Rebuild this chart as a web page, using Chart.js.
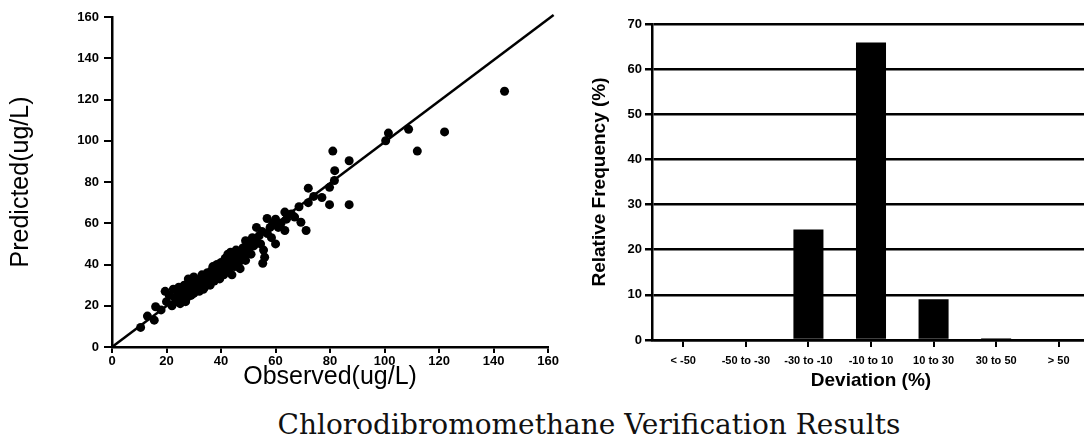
<!DOCTYPE html>
<html>
<head>
<meta charset="utf-8">
<script src="https://cdn.jsdelivr.net/npm/chart.js@4/dist/chart.umd.min.js"></script>
<style>
  html, body { margin: 0; padding: 0; background: #fff; overflow: hidden; }
  body { width: 1084px; height: 443px; position: relative; }
  #left-wrap { position: absolute; left: 0; top: 0; width: 560px; height: 400px; }
  #right-wrap { position: absolute; left: 560px; top: 0; width: 540px; height: 400px; }
  #caption {
    position: absolute; left: 0; top: 408px; width: 1178px; text-align: center;
    font-family: "DejaVu Serif", serif; font-size: 28px; color: #111;
  }
</style>
</head>
<body>
<div id="left-wrap"><canvas id="scatter-chart" width="560" height="400"></canvas></div>
<div id="right-wrap"><canvas id="hist-chart" width="540" height="400"></canvas></div>
<div id="caption">Chlorodibromomethane Verification Results</div>
<script>
// Observed vs predicted concentrations (ug/L)
const observed = [10.5, 13, 15.5, 16, 19.5, 18, 20, 21, 22, 22.5, 23, 23.5, 24, 24.5, 25, 25, 25.5, 26, 26.5, 27,
  27, 27.5, 28, 28, 28.5, 29, 29, 29.5, 30, 30, 30.5, 31, 31, 31.5, 32, 32, 32.5, 33, 33, 33.5,
  34, 34, 34.5, 35, 35, 35.5, 36, 36, 36.5, 37, 37, 37.5, 38, 38, 38.5, 39, 39, 39.5, 40, 40,
  40.5, 41, 41, 41.5, 42, 42, 42.5, 43, 43, 43.5, 44, 44, 45, 45, 45.5, 46, 46.5, 47, 47, 48,
  48.5, 49, 49, 50, 50.5, 51, 51.5, 52, 53, 53, 54, 54.5, 55, 55.3, 55.6, 56, 56.9, 57, 58, 58.5,
  59, 60, 60, 61, 62, 63.4, 63.4, 64, 65.8, 67, 68.6, 69.3, 71.2, 72, 72, 74, 77, 79.8, 79.8, 81.6,
  81.7, 81, 87, 87, 100.4, 101.4, 108.8, 112, 122, 144];
const predicted = [9.5, 15, 13, 19.5, 27, 18, 22, 25, 20, 28, 24, 22, 27, 29, 21, 25, 23, 28, 30, 26,
  22, 24, 29, 33, 27, 25, 31, 28, 34, 26, 30, 28, 32, 29, 31, 27, 33, 30, 35, 28,
  32, 29, 34, 31, 36, 33, 30, 35, 37, 33, 39, 32, 36, 34, 40, 35, 37, 33, 38, 41,
  36, 39, 35, 43, 40, 37, 45, 42, 38, 46, 41, 35, 43, 39, 47, 44, 41, 45, 38, 48,
  44, 42, 51.5, 47, 50, 45, 53, 49, 51, 58, 54, 50, 56, 40.6, 47, 43.5, 62.3, 55, 58, 53,
  60, 50, 62, 58, 60, 65.4, 56.5, 62, 64.5, 63, 68, 60.5, 56.5, 77, 70, 73, 72.5, 77.4, 69, 80.7,
  85.5, 95, 90.3, 69, 100, 103.7, 105.6, 95, 104.3, 124];
// 1:1 reference line
const lineX = [0, 162];
const lineY = [0, 161];
const scatterTicks = [0, 20, 40, 60, 80, 100, 120, 140, 160];

// Deviation histogram
const deviationBins = ['< -50', '-50 to -30', '-30 to -10', '-10 to 10', '10 to 30', '30 to 50', '> 50'];
const relFrequency = [0, 0, 24.5, 65.9, 9.0, 0.4, 0];
const freqTicks = [0, 10, 20, 30, 40, 50, 60, 70];

const sans = '"Liberation Sans", Arial, sans-serif';
const tickFont = { family: sans, size: 13, weight: 'bold' };
const titleFont = { family: sans, size: 25, lineHeight: 1 };

// Scatter chart
new Chart(document.getElementById('scatter-chart'), {
  type: 'scatter',
  data: {
    datasets: [
      {
        type: 'line',
        data: lineX.map((x, i) => ({ x: x, y: lineY[i] })),
        borderColor: '#000',
        borderWidth: 2.5,
        pointRadius: 0,
        fill: false,
        clip: false
      },
      {
        data: observed.map((x, i) => ({ x: x, y: predicted[i] })),
        backgroundColor: '#000',
        borderColor: '#000',
        pointRadius: 4.5,
        borderWidth: 0
      }
    ]
  },
  options: {
    responsive: false,
    animation: false,
    layout: { padding: { top: 17, right: 11, bottom: 0, left: 0 } },
    plugins: { legend: { display: false }, tooltip: { enabled: false } },
    scales: {
      x: {
        type: 'linear', min: 0, max: 160,
        afterBuildTicks: s => { s.ticks = scatterTicks.map(v => ({ value: v })); },
        afterFit: s => { s.height = 53; },
        ticks: { color: '#000', font: tickFont, padding: 1, maxRotation: 0 },
        grid: { drawOnChartArea: false, drawTicks: true, tickLength: 6, color: '#000', lineWidth: 2 },
        border: { color: '#000', width: 2.5 },
        title: { display: true, text: 'Observed(ug/L)', color: '#000', font: titleFont, padding: { top: 0, bottom: 10 } }
      },
      y: {
        type: 'linear', min: 0, max: 160,
        afterBuildTicks: s => { s.ticks = scatterTicks.map(v => ({ value: v })); },
        afterFit: s => { s.width = 112; },
        ticks: { color: '#000', font: tickFont, padding: 5 },
        grid: { drawOnChartArea: false, drawTicks: true, tickLength: 8, color: '#000', lineWidth: 2 },
        border: { color: '#000', width: 2.5 },
        title: { display: true, text: 'Predicted(ug/L)', color: '#000', font: titleFont, padding: { top: 9, bottom: 0 } }
      }
    }
  }
});

// Histogram
new Chart(document.getElementById('hist-chart'), {
  type: 'bar',
  data: {
    labels: deviationBins,
    datasets: [{
      data: relFrequency,
      backgroundColor: '#000',
      borderWidth: 0,
      barPercentage: 0.48,
      categoryPercentage: 1
    }]
  },
  options: {
    responsive: false,
    animation: false,
    layout: { padding: { top: 24, right: 10, bottom: 0, left: 0 } },
    plugins: { legend: { display: false }, tooltip: { enabled: false } },
    scales: {
      x: {
        afterFit: s => { s.height = 60; },
        ticks: { color: '#000', font: { family: sans, size: 11, weight: 'bold' }, padding: 7, autoSkip: false, maxRotation: 0 },
        grid: { offset: false, drawOnChartArea: false, drawTicks: true, tickLength: 7, color: '#000', lineWidth: 2 },
        border: { color: '#000', width: 2.5 },
        title: { display: true, text: 'Deviation (%)', color: '#000', font: { family: sans, size: 19, weight: 'bold', lineHeight: 1 }, padding: { top: 0, bottom: 10 } }
      },
      y: {
        min: 0, max: 70,
        afterBuildTicks: s => { s.ticks = freqTicks.map(v => ({ value: v })); },
        afterFit: s => { s.width = 92; },
        ticks: { color: '#000', font: { family: sans, size: 13, weight: 'bold' }, padding: 3 },
        grid: { drawTicks: true, tickLength: 7, color: '#000', lineWidth: 2.5 },
        border: { color: '#000', width: 2.5 },
        title: { display: true, text: 'Relative Frequency (%)', color: '#000', font: { family: sans, size: 19, weight: 'bold', lineHeight: 1 }, padding: { top: 30, bottom: 0 } }
      }
    }
  }
});
</script>
</body>
</html>
